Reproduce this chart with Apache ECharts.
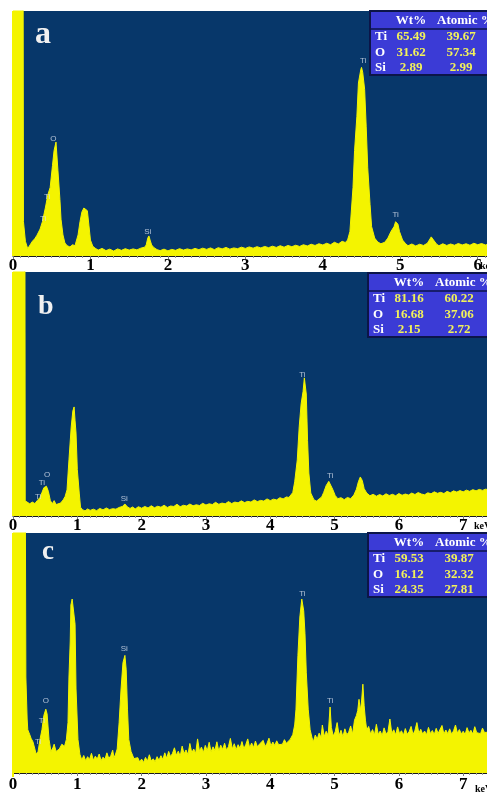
<!DOCTYPE html>
<html><head><meta charset="utf-8">
<script src="https://cdn.jsdelivr.net/npm/echarts@6/dist/echarts.min.js"></script>
<style>html,body{margin:0;padding:0;background:#fff}#c{width:487px;height:793px}</style>
</head><body><div id="c"></div>
<script>
// Energy (keV) vs relative counts (% of panel height)
const specA=[[0,130],[0.13,130],[0.135,14],[0.16,6],[0.19,3],[0.22,4.5],[0.25,6],[0.28,7],[0.31,8.5],[0.35,11],[0.38,14],[0.42,20],[0.45,25],[0.48,28],[0.51,37],[0.53,43],[0.555,46.5],[0.58,35],[0.606,23],[0.62,15],[0.645,8.6],[0.67,5.3],[0.70,4.2],[0.735,3.7],[0.77,4.6],[0.80,4.2],[0.84,8.6],[0.865,14],[0.89,18],[0.915,19.6],[0.93,20.2],[0.94,19],[0.96,18.5],[0.98,12.6],[1.0,6.5],[1.03,4],[1.06,3.2],[1.10,2.4],[1.15,3.1],[1.20,2.2],[1.25,2.8],[1.30,2.0],[1.35,2.9],[1.40,2.3],[1.45,3.0],[1.50,2.4],[1.55,2.9],[1.60,2.5],[1.65,3.2],[1.70,3.6],[1.72,4.5],[1.74,7.3],[1.755,8.2],[1.77,6.5],[1.79,4.5],[1.82,3.4],[1.86,2.6],[1.90,2.2],[1.95,2.8],[2.0,2.1],[2.05,2.7],[2.10,2.3],[2.15,3.0],[2.20,2.4],[2.25,2.9],[2.30,2.5],[2.35,3.1],[2.40,2.6],[2.45,3.2],[2.50,2.7],[2.55,3.3],[2.60,2.6],[2.65,3.4],[2.70,2.9],[2.75,3.5],[2.80,2.8],[2.85,3.3],[2.90,3.0],[2.95,3.6],[3.00,3.1],[3.05,3.7],[3.10,3.2],[3.15,3.8],[3.20,3.3],[3.25,3.9],[3.30,3.4],[3.35,4.0],[3.40,3.5],[3.45,4.2],[3.50,3.6],[3.55,4.3],[3.60,3.8],[3.65,4.4],[3.70,3.9],[3.75,4.6],[3.80,4.1],[3.85,4.8],[3.90,4.3],[3.95,5.0],[4.00,4.5],[4.05,5.2],[4.10,4.6],[4.15,5.6],[4.20,4.9],[4.25,6.0],[4.29,5.5],[4.32,6.5],[4.35,10],[4.39,28],[4.41,43],[4.44,57],[4.46,70.6],[4.49,76],[4.50,77],[4.515,75],[4.54,68],[4.56,53],[4.58,36],[4.61,21],[4.63,12],[4.67,7.3],[4.71,5.7],[4.75,5.0],[4.80,5.6],[4.84,7.3],[4.88,10],[4.92,12],[4.94,14],[4.97,13],[4.99,10],[5.03,6.5],[5.07,5],[5.10,4.2],[5.15,4.9],[5.20,4.1],[5.25,4.8],[5.30,4.3],[5.35,5.2],[5.40,7.8],[5.43,6.5],[5.47,4.8],[5.50,4.2],[5.55,5.0],[5.60,4.3],[5.65,4.9],[5.70,4.4],[5.75,5.1],[5.80,4.5],[5.85,5.0],[5.90,4.4],[5.95,5.2],[6.00,4.6],[6.05,5.1],[6.10,4.5],[6.15,5.0]];
const specB=[[0,130],[0.185,130],[0.19,6.2],[0.22,5.4],[0.26,5.0],[0.30,5.7],[0.34,5.1],[0.38,6.4],[0.42,7.6],[0.45,9.6],[0.48,11.6],[0.52,12.2],[0.55,10.1],[0.58,6.4],[0.61,5.0],[0.64,6.3],[0.67,4.7],[0.70,4.4],[0.74,5.3],[0.78,6.6],[0.81,8.0],[0.84,10.7],[0.87,23],[0.905,36.5],[0.93,43],[0.95,44.7],[0.965,39],[0.98,34],[1.0,19],[1.03,9.4],[1.05,3.6],[1.08,2.6],[1.12,2.1],[1.16,2.9],[1.20,2.3],[1.25,2.8],[1.30,2.2],[1.35,3.1],[1.40,2.5],[1.45,3.3],[1.50,2.6],[1.55,3.0],[1.60,2.8],[1.65,3.5],[1.70,3.9],[1.74,4.9],[1.78,3.7],[1.82,3.1],[1.86,3.7],[1.90,2.9],[1.95,3.8],[2.00,3.2],[2.05,3.9],[2.10,3.3],[2.15,4.2],[2.20,3.4],[2.25,4.0],[2.30,3.6],[2.35,4.4],[2.40,3.5],[2.45,4.1],[2.50,3.9],[2.55,4.8],[2.60,3.8],[2.65,4.4],[2.70,4.1],[2.75,4.9],[2.80,4.2],[2.85,4.6],[2.90,4.3],[2.95,5.2],[3.00,4.5],[3.05,5.0],[3.10,4.7],[3.15,5.6],[3.20,4.8],[3.25,5.3],[3.30,5.0],[3.35,5.9],[3.40,5.1],[3.45,5.7],[3.50,5.4],[3.55,6.2],[3.60,5.5],[3.65,6.0],[3.70,5.7],[3.75,6.6],[3.80,5.9],[3.85,6.4],[3.90,6.1],[3.95,7.0],[4.00,6.3],[4.05,6.9],[4.10,6.6],[4.15,7.5],[4.20,7.0],[4.25,7.8],[4.29,7.6],[4.32,8.6],[4.35,9.6],[4.38,14],[4.42,23],[4.45,36.5],[4.48,46],[4.51,51],[4.53,56.6],[4.56,50],[4.58,31],[4.60,17.6],[4.63,9.4],[4.68,6.6],[4.72,6.1],[4.76,7.0],[4.80,7.8],[4.83,9.6],[4.87,12.5],[4.91,14.2],[4.94,13.4],[4.97,11],[5.01,8.4],[5.05,7.1],[5.10,7.5],[5.15,6.7],[5.20,7.6],[5.25,7.1],[5.30,8.6],[5.34,11],[5.37,14],[5.40,16],[5.43,14.6],[5.46,11.2],[5.50,9.4],[5.55,8.3],[5.60,8.9],[5.65,8.1],[5.70,8.8],[5.75,8.2],[5.80,9.1],[5.85,8.4],[5.90,8.9],[5.95,8.3],[6.00,9.2],[6.05,8.5],[6.10,9.0],[6.15,8.6],[6.20,9.4],[6.25,8.8],[6.30,9.6],[6.35,9.0],[6.40,8.7],[6.45,9.5],[6.50,9.1],[6.55,9.9],[6.60,9.3],[6.65,9.7],[6.70,9.2],[6.75,10.1],[6.80,9.5],[6.85,10.3],[6.90,9.8],[6.95,10.4],[7.00,9.9],[7.05,10.6],[7.10,10.1],[7.15,10.8],[7.20,10.3],[7.25,10.9],[7.30,10.5],[7.35,11.0],[7.40,10.7]];
const specC=[[0,130],[0.19,130],[0.20,40],[0.22,22.5],[0.23,18],[0.26,16],[0.28,14.5],[0.31,13],[0.34,10],[0.36,7.8],[0.39,9],[0.42,14],[0.45,18],[0.48,24],[0.51,26.6],[0.53,24.6],[0.56,14],[0.59,9],[0.62,10.5],[0.64,12],[0.67,9],[0.70,8.5],[0.72,10],[0.76,12],[0.80,11],[0.83,14],[0.855,21],[0.87,40],[0.89,55],[0.90,70],[0.92,72.5],[0.95,72.5],[0.965,62],[0.98,35],[1.01,14],[1.04,7.8],[1.07,5.4],[1.10,7.3],[1.13,5.1],[1.16,6.8],[1.19,5.6],[1.22,8.2],[1.25,5.3],[1.28,7.0],[1.31,5.8],[1.34,7.9],[1.37,5.2],[1.40,6.6],[1.43,5.7],[1.46,8.4],[1.49,6.0],[1.52,7.2],[1.55,9.5],[1.57,6.4],[1.59,7.5],[1.62,10],[1.65,21],[1.68,35],[1.71,46],[1.74,49],[1.76,43],[1.78,26.6],[1.80,14],[1.835,9],[1.88,6],[1.91,5.2],[1.94,6.4],[1.97,4.6],[2.00,5.8],[2.03,4.4],[2.06,6.5],[2.09,4.9],[2.12,7.6],[2.15,5.0],[2.18,5.9],[2.21,4.7],[2.24,6.8],[2.27,5.3],[2.30,7.2],[2.33,5.6],[2.36,8.4],[2.39,6.1],[2.42,9.0],[2.45,6.8],[2.48,8.2],[2.51,10.5],[2.54,7.4],[2.57,9.1],[2.60,7.0],[2.63,11.2],[2.66,8.0],[2.69,9.6],[2.72,7.6],[2.75,12.3],[2.78,8.4],[2.81,10.0],[2.84,8.1],[2.87,14.2],[2.90,9.0],[2.93,10.8],[2.96,8.5],[2.99,11.5],[3.02,9.2],[3.05,12.8],[3.08,8.8],[3.11,10.9],[3.14,9.4],[3.17,13.0],[3.20,9.1],[3.23,11.6],[3.26,9.8],[3.29,12.4],[3.32,9.5],[3.35,11.0],[3.38,14.4],[3.41,10.0],[3.44,12.2],[3.47,9.7],[3.50,11.8],[3.53,10.3],[3.56,13.1],[3.59,10.1],[3.62,11.9],[3.65,14.2],[3.68,10.4],[3.71,12.5],[3.74,10.6],[3.77,13.3],[3.80,10.9],[3.83,12.0],[3.86,11.2],[3.89,13.6],[3.92,11.0],[3.95,12.4],[3.98,14.5],[4.01,11.3],[4.04,12.9],[4.07,11.5],[4.10,13.4],[4.13,11.8],[4.16,12.6],[4.19,12.0],[4.22,13.9],[4.25,12.4],[4.28,13.2],[4.31,14.0],[4.35,16],[4.38,20],[4.40,26.6],[4.43,49],[4.46,65],[4.49,72.5],[4.52,67.6],[4.54,58],[4.56,42],[4.59,26.6],[4.62,18],[4.65,14.6],[4.67,13],[4.70,15.8],[4.73,14.1],[4.76,16.6],[4.79,14.8],[4.81,20],[4.84,15.2],[4.87,17.4],[4.90,15.6],[4.93,27.5],[4.95,19],[4.98,15.4],[5.01,17.2],[5.04,21],[5.07,15.6],[5.10,17.8],[5.13,15.1],[5.16,18.4],[5.19,15.9],[5.22,17.0],[5.25,19.6],[5.28,16.2],[5.31,22],[5.34,24],[5.36,26],[5.38,30.7],[5.40,26],[5.42,30],[5.44,37],[5.46,28],[5.48,22],[5.50,18],[5.53,19.4],[5.56,16.2],[5.59,18.1],[5.62,15.8],[5.65,20.3],[5.68,16.0],[5.71,17.5],[5.74,15.6],[5.77,18.8],[5.80,16.3],[5.83,17.2],[5.86,22.5],[5.89,16.5],[5.92,18.0],[5.95,15.9],[5.98,19.2],[6.01,16.4],[6.04,17.6],[6.07,15.7],[6.10,18.5],[6.13,16.1],[6.16,17.3],[6.19,19.4],[6.22,16.0],[6.25,17.8],[6.28,21],[6.31,16.6],[6.34,18.2],[6.37,16.2],[6.40,17.5],[6.43,15.9],[6.46,19.0],[6.49,16.4],[6.52,17.7],[6.55,16.0],[6.58,18.6],[6.61,16.5],[6.64,17.3],[6.67,19.8],[6.70,16.2],[6.73,17.9],[6.76,16.4],[6.79,18.4],[6.82,16.1],[6.85,17.6],[6.88,20],[6.91,16.6],[6.94,18.1],[6.97,16.3],[7.00,17.4],[7.03,16.0],[7.06,18.9],[7.09,16.7],[7.12,17.8],[7.15,16.2],[7.18,19.3],[7.21,16.8],[7.24,17.5],[7.27,16.4],[7.30,18.7],[7.33,16.9],[7.36,17.6],[7.40,17.0]];

// Peak labels [keV, height %, element]
const peaksA=[[0.52,48,'O'],[0.44,24,'Ti'],[0.39,15,'Ti'],[1.74,10,'Si'],[4.52,79.6,'Ti'],[4.94,16.7,'Ti']];
const peaksB=[[0.53,17,'O'],[0.45,13.5,'Ti'],[0.39,7.8,'Ti'],[1.73,7,'Si'],[4.50,58,'Ti'],[4.93,16.4,'Ti']];
const peaksC=[[0.51,30,'O'],[0.45,21.7,'Ti'],[0.39,13,'Ti'],[1.73,51.6,'Si'],[4.50,74.6,'Ti'],[4.93,30,'Ti']];

// Composition tables
const tableHeader=['Wt%','Atomic %'];
const tableA=[['Ti','65.49','39.67'],['O','31.62','57.34'],['Si','2.89','2.99']];
const tableB=[['Ti','81.16','60.22'],['O','16.68','37.06'],['Si','2.15','2.72']];
const tableC=[['Ti','59.53','39.87'],['O','16.12','32.32'],['Si','24.35','27.81']];
const panelLetters=['a','b','c'];
const axisMax=[6.12,7.37,7.37];
const axisUnit='keV';

const BG='#07376a', YEL='#f4f400', SERIF='"Liberation Serif","Times New Roman",serif';
const panels=[
  {top:11,h:245,left:13,spec:specA,peaks:peaksA,table:tableA,tx:370,lm:1,letter:{x:35,y:42,s:32},unitX:480},
  {top:272,h:244,left:13,spec:specB,peaks:peaksB,table:tableB,tx:368,lm:1,letter:{x:38,y:313,s:28},unitX:474},
  {top:533,h:244,left:13,spec:specC,peaks:peaksC,table:tableC,tx:368,lm:3,letter:{x:42,y:558,s:27},unitX:475}
];
const tableTops=[11,273,533];

const grid=[],xAxis=[],yAxis=[],series=[],graphic=[];
panels.forEach((p,i)=>{
  grid.push({left:p.left,top:p.top,width:487-p.left,height:p.h,show:true,backgroundColor:BG,borderWidth:0});
  graphic.push({type:'rect',shape:{x:12,y:p.top,width:2,height:p.h},style:{fill:YEL},z:1});
  xAxis.push({type:'value',gridIndex:i,min:0,max:axisMax[i],interval:1,
    axisLine:{show:true,onZero:false,lineStyle:{color:'#1a1a1a',width:1}},
    axisTick:{show:true,length:3,lineStyle:{color:'#777'}},
    minorTick:{show:true,splitNumber:10,length:2,lineStyle:{color:'#999'}},
    splitLine:{show:false},
    axisLabel:{margin:p.lm,color:'#000',fontFamily:SERIF,fontWeight:'bold',fontSize:17,showMaxLabel:false}});
  yAxis.push({type:'value',gridIndex:i,min:0,max:100,show:false});
  series.push({type:'line',xAxisIndex:i,yAxisIndex:i,data:p.spec,showSymbol:false,symbol:'none',clip:true,
    lineStyle:{color:YEL,width:1},areaStyle:{color:YEL,opacity:1},silent:true,z:2});
  series.push({type:'scatter',xAxisIndex:i,yAxisIndex:i,data:p.peaks,symbolSize:0,silent:true,z:5,
    label:{show:true,position:'inside',formatter:d=>d.data[2],color:'#d8e0ee',fontSize:8,fontFamily:'"Liberation Sans",Arial,sans-serif'}});
  graphic.push({type:'text',left:p.letter.x,top:p.letter.y-p.letter.s*0.72,z:10,
    style:{text:panelLetters[i],fill:'#f0f0f0',font:'bold '+p.letter.s+'px '+SERIF}});
  graphic.push({type:'text',x:p.unitX,y:p.top+p.h+p.lm+4,z:10,
    style:{text:axisUnit,fill:'#000',font:'bold 10px '+SERIF}});
  const tx=p.tx, ty=tableTops[i];
  const els=[];
  els.push({type:'rect',shape:{x:tx,y:ty,width:130,height:64},style:{fill:'#3b3bd6',stroke:'#0c1548',lineWidth:2}});
  els.push({type:'line',shape:{x1:tx,y1:ty+18,x2:tx+130,y2:ty+18},style:{stroke:'#0c1548',lineWidth:1.5}});
  const tf='bold 13px '+SERIF;
  els.push({type:'text',style:{text:tableHeader[0],x:tx+41,y:ty+10,align:'center',verticalAlign:'middle',fill:'#fff',font:tf}});
  els.push({type:'text',style:{text:tableHeader[1],x:tx+67,y:ty+10,align:'left',verticalAlign:'middle',fill:'#fff',font:tf}});
  const rowY=[26,41.5,57];
  p.table.forEach((r,k)=>{
    els.push({type:'text',style:{text:r[0],x:tx+5,y:ty+rowY[k],align:'left',verticalAlign:'middle',fill:'#fff',font:tf}});
    els.push({type:'text',style:{text:r[1],x:tx+41,y:ty+rowY[k],align:'center',verticalAlign:'middle',fill:'#f2f25a',font:tf}});
    els.push({type:'text',style:{text:r[2],x:tx+91,y:ty+rowY[k],align:'center',verticalAlign:'middle',fill:'#f2f25a',font:tf}});
  });
  graphic.push({type:'group',z:20,children:els});
});

const chart=echarts.init(document.getElementById('c'),null,{renderer:'canvas'});
chart.setOption({animation:false,backgroundColor:'#fff',grid,xAxis,yAxis,series,graphic});
</script></body></html>
